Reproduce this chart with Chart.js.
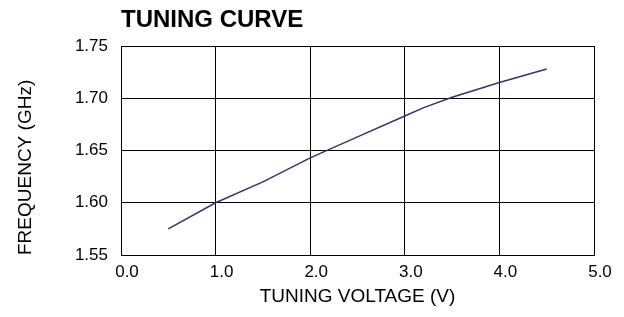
<!DOCTYPE html>
<html>
<head>
<meta charset="utf-8">
<script src="https://cdn.jsdelivr.net/npm/chart.js@4/dist/chart.umd.min.js"></script>
<style>
    body { margin: 0; background: #fff; }
    canvas { display: block; }
</style>
</head>
<body>
<canvas id="tuningChart" width="624" height="317"></canvas>
<script>
// values
const voltage = [0.5, 1.0, 1.5, 2.0, 2.5, 3.0, 3.2, 3.5, 4.0, 4.5];
const frequency = [1.575, 1.6, 1.62, 1.643, 1.663, 1.683, 1.691, 1.701, 1.715, 1.728];
const xTicks = [0, 1, 2, 3, 4, 5];
const yTicks = [1.55, 1.6, 1.65, 1.7, 1.75];

const fontFamily = "'Liberation Sans', Arial, sans-serif";
const black = '#000000';

const chart = new Chart('tuningChart', {
    type: 'line',
    data: {
        datasets: [
            {
                label: 'Frequency',
                data: voltage.map((v, i) => ({ x: v, y: frequency[i] })),
                borderColor: '#34346e',
                borderWidth: 1.5,
                pointRadius: 0,
                tension: 0,
                fill: false,
            },
        ],
    },
    options: {
        responsive: false,
        animation: false,
        devicePixelRatio: 1,
        layout: { padding: { left: 0, right: 30, top: 0, bottom: 0 } },
        plugins: {
            legend: { display: false },
            tooltip: { enabled: false },
            title: {
                display: true,
                text: 'TUNING CURVE',
                align: 'start',
                fullSize: false,
                color: black,
                font: { family: fontFamily, size: 24, weight: 'bold' },
                padding: { top: 5.6, bottom: 11.6 },
            },
        },
        scales: {
            x: {
                type: 'linear',
                min: xTicks[0],
                max: xTicks[xTicks.length - 1],
                afterBuildTicks: (scale) => {
                    scale.ticks = xTicks.map((v) => ({ value: v }));
                },
                afterFit: (scale) => {
                    scale.height = 62;
                },
                ticks: {
                    color: black,
                    font: { family: fontFamily, size: 17 },
                    padding: 7,
                    labelOffset: 6,
                    maxRotation: 0,
                    callback: (v) => Number(v).toFixed(1),
                },
                grid: {
                    color: black,
                    lineWidth: 1,
                    drawTicks: false,
                },
                border: { color: black, width: 1 },
                title: {
                    display: true,
                    text: 'TUNING VOLTAGE (V)',
                    color: black,
                    font: { family: fontFamily, size: 19 },
                    padding: { top: 0, bottom: 9 },
                },
            },
            y: {
                type: 'linear',
                min: yTicks[0],
                max: yTicks[yTicks.length - 1],
                afterBuildTicks: (scale) => {
                    scale.ticks = yTicks.map((v) => ({ value: v }));
                },
                afterFit: (scale) => {
                    scale.width = 121;
                },
                ticks: {
                    color: black,
                    font: { family: fontFamily, size: 17 },
                    padding: 13,
                    callback: (v) => Number(v).toFixed(2),
                },
                grid: {
                    color: black,
                    lineWidth: 1,
                    drawTicks: false,
                },
                border: { color: black, width: 1 },
                title: {
                    display: true,
                    text: 'FREQUENCY (GHz)',
                    align: 'start',
                    color: black,
                    font: { family: fontFamily, size: 19 },
                    padding: { top: 14, bottom: 0 },
                },
            },
        },
    },
});
</script>
</body>
</html>
